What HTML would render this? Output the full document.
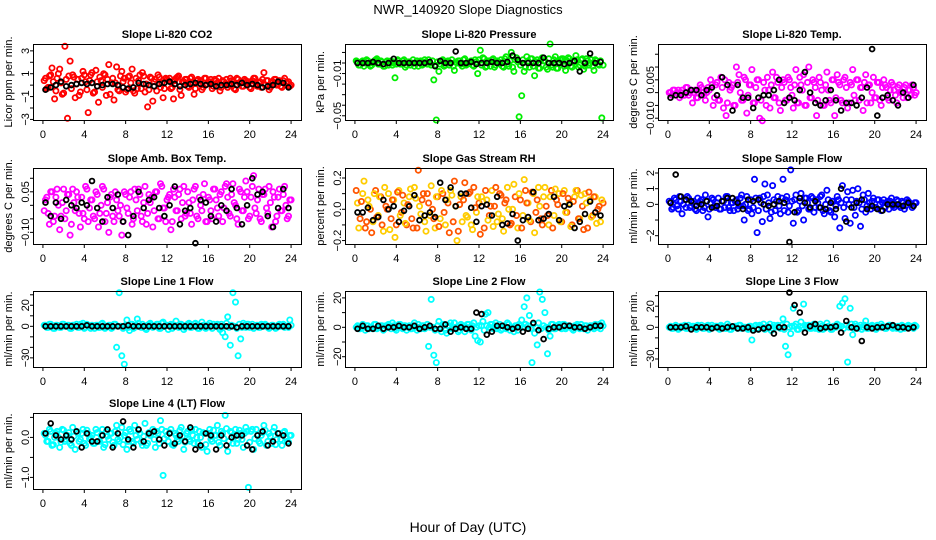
<!DOCTYPE html>
<html><head><meta charset="utf-8"><title>NWR_140920 Slope Diagnostics</title>
<style>
html,body{margin:0;padding:0;background:#fff;}
svg{display:block;font-family:"Liberation Sans",sans-serif;}
</style></head>
<body>
<svg id="chart" width="936" height="540" viewBox="0 0 936 540" xmlns="http://www.w3.org/2000/svg">
<rect x="0" y="0" width="936" height="540" fill="#fff"/>
<text x="468" y="14" text-anchor="middle" font-size="13">NWR_140920  Slope Diagnostics</text>
<text x="468" y="532" text-anchor="middle" font-size="14">Hour of Day (UTC)</text>
</svg>
<script>
// ---- data ----
const xTicks = [0,4,8,12,16,20,24];

const co2Color = [0.4,-0.3,0.8,1.5,-1.2,0.6,1.4,-0.8,3.4,-2.9,2.1,0.9,-1.1,0.5,-0.6,1.2,0.3,-2.4,0.9,-0.7,1.3,-1.5,0.4,1.0,-0.9,1.8,0.2,-1.3,1.6,-0.5,1.2,0.6,
-0.4,0.8,1.4,-0.7,-0.3,0.9,1.1,-0.6,-1.9,0.7,-1.4,0.5,0.9,-0.2,-1.1,0.6,0.4,-0.3,-1.2,0.6,0.8,-0.9,0.3,0.5,-0.2,0.7,-0.8,0.4,0.2,-0.4,0.6,0.1,
0.3,-0.3,0.5,0.2,-0.5,0.4,0.1,-0.2,0.6,0.3,-0.4,0.5,0.2,-0.1,0.4,0.3,-0.3,0.6,0.1,0.2,-0.2,1.1,0.4,-0.4,0.3,0.5,0.0,0.4,-0.2,0.6,0.2,-0.1];
const co2Band = [0.6,-0.2,0.9,0.3,-0.5,1.0,0.2,-0.7,0.5,0.8,-0.3,0.7,0.1,-0.9,0.6,0.9,-0.4,0.4,1.1,-0.6,0.3,0.7,-0.2,0.9,0.5,-0.8,0.6,0.2,-0.4,0.8,0.3,-0.6,
0.7,0.2,-0.5,0.6,0.4,-0.3,0.8,0.1,-0.4,0.6,0.3,-0.5,0.7,0.2,-0.3,0.5,0.6,-0.2,0.4,0.7,-0.4,0.3,0.5,-0.1,0.6,0.2,-0.3,0.5,0.4,-0.2,0.6,0.3,
0.5,-0.1,0.4,0.6,-0.2,0.3,0.5,0.0,0.4,-0.3,0.6,0.2,-0.1,0.5,0.3,-0.2,0.4,0.6,-0.1,0.3,0.5,0.0,0.4,-0.2,0.3,0.5,0.1,-0.1,0.4,0.2,0.3,0.0];
const co2Black = [-0.4,-0.2,0.0,0.3,-0.1,0.0,0.1,0.2,0.1,0.2,-0.1,0.0,0.1,0.1,0.0,-0.2,-0.3,-0.2,0.2,0.1,0.0,-0.1,0.1,0.2,0.3,0.1,-0.1,0.0,0.1,0.2,0.1,0.0,0.1,-0.1,0.0,0.0,0.1,0.0,0.2,0.0,0.1,0.0,-0.2,-0.1,0.0,0.3,0.2,-0.2];

const presColor = [0.002,-0.002,0.001,-0.003,0.003,0.000,-0.002,0.002,0.004,-0.001,0.001,-0.003,0.002,0.000,-0.002,-0.014,0.003,-0.001,0.002,-0.004,0.001,-0.002,0.003,0.000,-0.003,0.002,-0.001,0.001,0.003,-0.002,-0.016,-0.054,
-0.008,0.002,-0.003,0.001,-0.002,0.003,-0.007,0.000,0.002,-0.003,0.004,-0.001,0.001,-0.002,0.003,-0.010,0.012,0.005,-0.004,0.002,-0.003,0.004,-0.002,0.001,0.003,-0.004,0.006,-0.003,0.010,-0.008,0.005,-0.051,
-0.031,-0.008,0.006,-0.004,0.004,-0.012,0.003,-0.005,0.005,0.002,-0.006,0.018,-0.004,0.006,-0.005,0.003,0.004,-0.007,0.005,-0.003,0.002,0.007,-0.004,0.003,-0.006,0.004,-0.002,0.003,-0.007,0.002,-0.002,-0.052];
const presBand = [0.001,-0.002,0.002,0.000,0.002,-0.003,0.000,0.003,-0.001,0.002,-0.003,0.001,-0.002,0.002,0.000,-0.001,
0.002,-0.001,0.003,-0.002,0.001,0.000,-0.003,0.002,0.001,-0.002,0.003,-0.001,0.000,0.002,-0.002,0.001,
-0.001,0.003,-0.002,0.002,0.000,-0.003,0.001,0.002,-0.001,0.003,-0.002,0.000,0.002,-0.003,0.001,0.003,
-0.002,0.004,-0.003,0.001,0.003,-0.004,0.002,0.000,-0.003,0.004,-0.001,0.002,-0.004,0.003,0.001,-0.002,
0.003,-0.004,0.002,0.004,-0.003,0.001,-0.005,0.003,0.002,-0.004,0.004,-0.002,0.003,-0.005,0.001,0.004,
-0.003,0.002,0.004,-0.004,0.001,0.003,-0.002,0.004,-0.003,0.002,0.000,-0.003,0.003,-0.001,0.002,-0.002];
const presBlack = [0,0,0,0.001,0,-0.001,0,0.004,0,0,0,0,0,0,0.001,-0.003,0.002,0,0,0.011,0,0,0.001,-0.001,0,0,0.001,0,0,0.001,0.007,0.003,0,0,0,0,0.005,0,0,0,-0.001,0,0.002,-0.008,0,0.009,0,0.001];

const tempColor = [0.000,-0.001,0.001,0.000,-0.002,0.001,-0.001,0.002,0.000,-0.004,0.001,-0.002,0.003,0.000,-0.003,0.002,
0.005,-0.005,0.003,-0.003,0.006,-0.006,-0.009,0.004,0.002,-0.005,0.010,0.007,-0.003,0.006,-0.008,0.003,0.009,-0.004,0.005,-0.010,-0.011,0.001,0.006,-0.006,0.008,-0.002,0.004,-0.007,0.005,-0.003,0.006,0.002,-0.006,0.009,-0.004,0.003,0.007,-0.005,0.010,-0.002,0.004,-0.009,0.006,0.001,-0.005,0.008,-0.003,0.005,-0.009,0.007,0.003,-0.004,0.006,-0.006,0.004,0.009,-0.003,0.005,0.002,-0.007,0.007,0.003,-0.004,0.006,-0.002,0.004,-0.005,0.005,0.002,-0.003,0.004,0.001,-0.004,0.003,0.000,0.002,-0.002,0.001,0.003,-0.001];
const tempBand = [0.000,0.001,-0.001,0.001,0.000,-0.001,0.002,-0.001,0.001,0.000,-0.002,0.001,0.002,-0.001,0.000,0.001,
0.003,-0.002,0.004,-0.003,0.002,0.005,-0.004,0.001,0.003,-0.005,0.004,0.000,-0.003,0.005,-0.001,0.003,
-0.004,0.002,0.005,-0.003,0.004,-0.005,0.001,0.003,-0.002,0.006,-0.004,0.002,0.004,-0.003,0.005,-0.001,
0.003,-0.004,0.006,0.001,-0.005,0.004,-0.002,0.005,0.002,-0.003,0.004,-0.005,0.003,0.001,-0.004,0.005,
-0.002,0.004,-0.003,0.005,0.002,-0.004,0.003,-0.001,0.005,-0.003,0.002,0.004,-0.004,0.003,0.000,-0.002,
0.004,-0.003,0.002,0.003,-0.002,0.001,0.003,-0.001,0.002,0.000,-0.002,0.003,0.001,-0.001,0.002,0.000];
const tempBlack = [-0.002,-0.001,-0.001,0.000,0.001,0.001,-0.001,0.001,0.002,-0.001,0.006,0.003,-0.007,0.003,-0.002,-0.002,-0.006,-0.002,-0.001,-0.001,0.001,0.005,-0.004,-0.002,-0.003,0.001,0.008,0.000,-0.004,-0.005,-0.003,0.001,-0.003,-0.007,-0.004,-0.004,-0.005,-0.002,0.002,0.017,-0.009,-0.002,-0.001,-0.003,-0.005,0.000,-0.002,0.003];

const boxColor = [-0.02,0.03,-0.07,0.05,-0.04,0.06,-0.09,0.01,-0.05,0.04,-0.11,0.06,-0.02,0.03,-0.08,-0.03,0.07,-0.06,0.02,-0.04,0.05,-0.08,0.00,0.06,-0.03,-0.10,0.04,-0.06,0.02,-0.04,-0.11,0.05,
-0.01,0.03,-0.07,0.06,-0.02,0.04,-0.06,0.07,-0.03,0.01,-0.08,0.05,-0.05,0.08,-0.01,-0.06,0.03,-0.09,0.06,-0.02,0.04,-0.05,0.07,-0.03,0.01,-0.07,0.06,-0.04,0.03,-0.02,0.08,-0.06,
0.02,-0.05,0.06,-0.01,0.04,-0.06,0.07,0.03,-0.04,0.08,0.00,-0.07,0.05,-0.02,0.09,-0.05,0.03,0.11,-0.03,0.06,-0.06,0.04,-0.01,0.07,-0.08,0.03,-0.04,0.06,-0.02,0.07,-0.05,0.02];
const boxBand = [0.02,-0.03,0.05,-0.06,0.03,0.00,-0.04,0.06,-0.02,0.04,-0.07,0.01,0.05,-0.03,0.03,-0.05,
0.06,-0.01,0.02,-0.05,0.04,-0.03,0.07,-0.06,0.01,0.03,-0.04,0.05,-0.02,0.00,-0.06,0.04,
-0.03,0.05,-0.05,0.02,0.06,-0.04,0.01,-0.07,0.04,0.03,-0.02,0.05,-0.05,0.07,-0.01,0.02,
0.04,-0.06,0.03,-0.02,0.06,0.01,-0.04,0.05,-0.03,0.02,0.07,-0.05,0.00,0.04,-0.06,0.03,
-0.02,0.06,0.02,-0.04,0.05,-0.01,0.08,-0.03,0.04,0.01,-0.05,0.06,-0.02,0.03,0.05,-0.04,
0.07,-0.01,0.02,-0.05,0.04,0.06,-0.03,0.01,0.05,-0.06,0.03,-0.02,0.04,0.00,-0.04,0.02];
const boxBlack = [0.01,-0.04,0.01,-0.05,0.02,0.00,-0.01,0.01,0.00,0.09,-0.01,-0.06,0.03,-0.01,0.04,-0.06,-0.11,-0.04,0.05,-0.01,0.02,0.03,-0.01,-0.04,0.00,0.07,-0.07,-0.02,-0.01,-0.14,0.02,0.01,-0.04,-0.06,0.00,-0.02,0.06,-0.01,-0.07,0.00,0.10,0.04,0.05,-0.04,-0.08,-0.01,0.06,-0.01];

const rhColor = [0.12,-0.12,0.05,0.18,-0.08,0.02,-0.15,0.10,-0.05,0.08,-0.10,0.14,0.00,-0.13,0.06,-0.18,0.11,-0.04,0.09,-0.09,0.03,0.13,-0.12,0.07,0.25,-0.03,0.10,-0.14,0.04,0.15,-0.06,0.08,
-0.11,0.12,-0.02,0.06,-0.15,0.09,0.18,-0.20,0.03,-0.08,0.17,-0.05,0.11,-0.13,0.01,0.08,-0.16,0.05,0.12,-0.07,0.02,-0.11,0.14,-0.03,0.09,-0.14,0.06,0.00,-0.09,0.16,-0.04,0.10,
-0.12,0.19,0.04,-0.07,0.11,-0.15,0.06,0.02,-0.10,0.14,-0.04,0.08,-0.12,0.13,0.03,-0.08,0.10,-0.02,0.07,-0.11,0.05,0.12,-0.06,0.09,-0.13,0.04,0.11,-0.05,0.08,-0.09,0.02,0.06];
const rhBand = [0.04,-0.06,0.10,-0.12,0.06,0.00,-0.08,0.12,-0.04,0.08,-0.14,0.02,0.10,-0.06,0.06,-0.10,
0.12,-0.02,0.04,-0.10,0.08,-0.06,0.14,-0.12,0.02,0.06,-0.08,0.10,-0.04,0.00,-0.12,0.08,
-0.06,0.10,-0.10,0.04,0.12,-0.08,0.02,-0.14,0.08,0.06,-0.04,0.10,-0.10,0.14,-0.02,0.04,
0.08,-0.12,0.06,-0.04,0.12,0.02,-0.08,0.10,-0.06,0.04,0.14,-0.10,0.00,0.08,-0.12,0.06,
-0.04,0.12,0.04,-0.08,0.10,-0.02,0.14,-0.06,0.08,0.02,-0.10,0.12,-0.04,0.06,0.10,-0.08,
0.12,-0.02,0.04,-0.10,0.08,0.12,-0.06,0.02,0.10,-0.12,0.06,-0.04,0.08,0.00,-0.08,0.04];
const rhBlack = [-0.02,-0.02,0.01,-0.07,-0.05,0.06,0.00,0.02,-0.08,-0.01,0.02,0.09,-0.07,-0.04,-0.02,-0.05,0.17,0.06,0.14,0.02,0.10,0.10,0.01,-0.08,0.02,0.03,-0.04,0.08,-0.10,-0.09,-0.03,-0.20,-0.07,-0.05,0.11,-0.07,-0.06,-0.03,0.08,-0.07,0.02,0.03,-0.12,-0.08,-0.03,0.05,-0.02,-0.04];

const sampleColor = [0.2,-0.3,0.4,-0.1,0.5,-0.6,0.3,0.5,-0.2,0.1,-0.3,0.4,0.2,-0.4,0.6,-0.8,0.1,0.3,-0.2,0.4,-0.3,0.2,0.5,-0.2,0.1,-0.4,0.3,-0.1,0.6,-1.0,0.5,-0.3,
-0.6,1.6,-1.8,0.4,-1.1,1.3,0.6,-0.9,1.2,-0.4,0.5,-0.6,1.6,0.3,-0.5,2.2,-1.2,0.6,-0.4,0.7,-1.0,0.4,-0.3,0.5,-0.5,0.3,-0.2,0.6,-0.6,0.9,-0.4,0.2,
-0.8,0.5,-1.5,1.2,-0.9,0.8,-1.2,0.9,-0.7,1.0,-1.4,0.6,-0.5,0.7,-0.3,0.4,-0.2,0.3,-0.4,0.3,0.1,-0.3,0.4,-0.2,0.3,-0.1,0.2,-0.3,0.3,0.1,-0.2,0.1];
const sampleBand = [0.1,-0.2,0.3,-0.3,0.2,0.0,-0.2,0.4,-0.1,0.2,-0.4,0.1,0.3,-0.2,0.2,-0.3,
0.4,-0.1,0.1,-0.3,0.2,-0.2,0.5,-0.4,0.1,0.2,-0.3,0.4,-0.1,0.0,-0.4,0.3,
-0.2,0.4,-0.4,0.1,0.5,-0.3,0.1,-0.5,0.3,0.2,-0.1,0.4,-0.4,0.5,-0.1,0.2,
0.3,-0.5,0.2,-0.1,0.4,0.1,-0.3,0.4,-0.2,0.1,0.5,-0.4,0.0,0.3,-0.5,0.2,
-0.1,0.3,0.1,-0.2,0.3,0.0,0.3,-0.2,0.2,0.1,-0.3,0.3,-0.1,0.1,0.2,-0.2,
0.3,0.0,0.1,-0.2,0.2,0.2,-0.1,0.0,0.2,-0.2,0.1,-0.1,0.2,0.0,-0.1,0.1];
const sampleBlack = [0.1,1.9,0.5,0.3,0.2,-0.1,0.0,0.2,-0.2,-0.1,0.2,0.4,0.4,0.1,-0.3,0.3,0.2,0.3,0.0,-0.1,0.0,0.2,0.1,-2.4,-0.5,0.4,0.1,-0.2,0.2,-0.2,-0.3,0.1,-0.3,1.0,-1.1,-0.2,0.1,0.3,-0.3,-0.1,-0.3,-0.4,0.0,0.0,0.0,-0.1,0.1,-0.1];

const line1Color = [1,-1,2,0,-2,1,-1,2,0,1,-2,1,0,-1,2,3,-1,1,-2,0,1,-1,2,-1,0,1,-2,2,
-20,32,-28,-36,
6,-4,2,-1,7,0,2,-2,1,3,-1,0,2,-2,4,1,-3,2,0,5,-1,2,-3,1,3,-1,2,0,-2,4,-1,1,3,-2,0,2,-3,-6,
-10,9,-18,32,23,-28,-12,
3,-1,2,0,-2,1,-1,2,0,1,-2,1,0,-1,2,1,-1,0,6];
const line1Band = [1,-1,2,-2,1,0,-1,2,0,1,-2,1,2,-1,1,-2,
2,0,1,-2,1,-1,3,-2,0,1,-1,2,0,0,-2,1,
-1,2,-2,1,3,-1,0,-3,2,1,0,2,-2,3,0,1,
1,-2,1,0,2,1,-1,2,-1,0,3,-2,0,1,-2,1,
0,2,1,-1,2,0,3,-1,1,0,-2,2,-1,1,2,-1,
2,0,1,-1,1,2,-1,0,1,-2,1,0,2,0,-1,1];
const line1Black = [0,0,0,0,0,0,0,0,1,0,0,0,0,0,0,0,1,0,0,0,0,0,0,0,0,0,0,0,0,0,0,0,0,0,0,0,0,-1,0,0,0,0,0,0,0,0,0,0];

const line2Color = [0,-1,1,0,1,-1,0,2,-1,0,1,-1,0,1,3,-1,0,2,-1,1,0,-1,1,0,2,-1,1,0,
-13,19,-19,-24,
4,-3,2,-4,1,-1,3,0,-2,1,-3,2,0,1,
-6,-9,-10,4,
9,10,
2,-1,3,0,-2,1,-1,2,0,-3,1,2,
5,14,20,8,-24,-4,
-12,24,19,10,-18,-6,
2,-1,1,0,2,-1,1,0,-2,1,0,2,-1,1,0,1,-1,0,2,3];
const line2Band = [1,-1,2,-2,1,0,-1,2,0,1,-2,1,2,-1,1,-2,
2,0,1,-2,1,-1,3,-2,0,1,-1,2,0,0,-2,1,
-1,2,-2,1,3,-1,0,-3,2,1,0,2,-2,3,0,1,
1,-2,1,0,2,1,-1,2,-1,0,3,-2,0,1,-2,1,
0,2,1,-1,2,0,3,-1,1,0,-2,2,-1,1,2,-1,
2,0,1,-1,1,2,-1,0,1,-2,1,0,2,0,-1,1];
const line2Black = [-1,1,-1,-1,1,-1,0,0,1,0,0,1,-1,0,1,-1,-1,2,-3,-1,0,-1,-1,10,9,-5,-3,1,1,0,-1,0,-3,-1,3,-2,-8,-1,0,0,1,1,0,0,-1,0,1,1];

const line3Color = [0,-1,1,0,-1,1,2,-1,0,1,-1,2,0,-1,1,2,-1,0,1,-1,2,0,-1,1,-2,0,1,2,-1,0,-1,1,
-12,
1,-1,2,0,-2,1,3,-1,0,2,-1,
8,-18,-26,-6,
18,3,-2,5,22,1,
2,-1,3,0,-2,1,-1,4,0,-2,1,3,
20,23,27,-33,18,-7,
3,-1,2,0,6,-1,1,0,-2,1,3,0,-1,2,0,1,-1,0,2,-1,1,0,1,2];
const line3Band = [1,-1,2,-2,1,0,-1,2,0,1,-2,1,2,-1,1,-2,
2,0,1,-2,1,-1,3,-2,0,1,-1,2,0,0,-2,1,
-1,2,-2,1,3,-1,0,-3,2,1,0,2,-2,3,0,1,
1,-2,1,0,2,1,-1,2,-1,0,3,-2,0,1,-2,1,
0,2,1,-1,2,0,3,-1,1,0,-2,2,-1,1,2,-1,
2,0,1,-1,1,2,-1,0,1,-2,1,0,2,0,-1,1];
const line3Black = [0,0,0,1,-2,0,0,0,-1,0,-1,0,1,-1,-1,0,-3,-2,-1,0,-6,0,0,33,21,14,-5,1,3,-1,0,0,1,-5,6,0,-1,-13,0,-1,0,0,1,2,0,0,-1,0];

const line4Color = [0.1,-0.1,0.2,-0.2,0.0,0.15,-0.25,0.2,-0.1,0.05,-0.15,0.25,-0.3,0.1,-0.05,0.2,-0.2,0.1,0.0,-0.15,0.2,-0.1,0.05,-0.25,0.15,-0.05,0.1,-0.2,0.3,-0.1,0.25,0.05,
-0.3,0.2,-0.1,0.3,-0.05,0.1,-0.2,0.35,-0.15,0.05,0.2,-0.25,0.1,0.42,-0.95,0.15,-0.1,0.2,-0.2,0.05,-0.1,0.25,-0.3,0.1,-0.05,0.2,-0.15,0.0,0.15,-0.25,0.1,-0.35,
0.2,-0.1,0.05,0.3,-0.2,0.1,0.55,-0.35,0.15,-0.15,0.2,-0.05,0.1,-0.25,0.25,-1.25,0.15,-0.3,0.2,-0.1,0.05,0.3,-0.2,0.1,-0.15,0.25,-0.05,0.1,-0.2,0.15,-0.1,0.05];
const line4Band = [0.05,-0.1,0.15,-0.18,0.1,0.0,-0.12,0.18,-0.05,0.12,-0.2,0.03,0.15,-0.1,0.1,-0.15,
0.18,-0.03,0.05,-0.15,0.12,-0.1,0.2,-0.18,0.03,0.1,-0.12,0.15,-0.05,0.0,-0.18,0.12,
-0.1,0.15,-0.15,0.05,0.18,-0.12,0.03,-0.2,0.12,0.1,-0.05,0.15,-0.15,0.2,-0.03,0.05,
0.12,-0.18,0.1,-0.05,0.18,0.03,-0.12,0.15,-0.1,0.05,0.2,-0.15,0.0,0.12,-0.18,0.1,
-0.05,0.18,0.05,-0.12,0.15,-0.03,0.22,-0.1,0.12,0.03,-0.15,0.18,-0.05,0.1,0.15,-0.12,
0.2,-0.03,0.05,-0.15,0.12,0.18,-0.1,0.03,0.15,-0.18,0.1,-0.05,0.12,0.0,-0.12,0.05];
const line4Black = [0.1,0.35,0.05,-0.05,0.05,-0.05,0.15,-0.25,0.1,-0.1,-0.1,0.05,0.2,-0.25,0.1,0.4,-0.05,-0.25,0.2,-0.1,0.1,0.15,-0.05,-0.2,0.1,-0.15,0.05,-0.1,0.25,-0.3,-0.2,0.1,0.05,-0.3,0.05,-0.2,0.0,0.05,0.05,-0.2,-0.3,0.05,0.15,-0.2,-0.1,0.1,0.05,-0.15];

const co2YTicks = [3,2,1,0,-1,-2,-3];
const co2YLabels = ["3","","1","","-1","","-3"];
const presYTicks = [0.01,0,-0.01,-0.02,-0.03,-0.04,-0.05];
const presYLabels = ["","","-0.01","","","","-0.05"];
const tempYTicks = [0.015,0.01,0.005,0,-0.005,-0.01];
const tempYLabels = ["","","0.005","","","-0.010"];
const boxYTicks = [0.1,0.05,0,-0.05,-0.1];
const boxYLabels = ["","0.05","","","-0.10"];
const rhYTicks = [0.2,0.1,0,-0.1,-0.2];
const rhYLabels = ["0.2","","0.0","","-0.2"];
const sampleYTicks = [2,1,0,-1,-2];
const sampleYLabels = ["2","1","0","","-2"];
const l1YTicks = [30,20,10,0,-10,-20,-30];
const l1YLabels = ["","20","","0","","","-30"];
const l2YTicks = [20,10,0,-10,-20];
const l2YLabels = ["20","","0","","-20"];
const l3YTicks = [30,20,10,0,-10,-20,-30];
const l3YLabels = ["","20","","0","","","-30"];
const l4YTicks = [0.5,0,-0.5,-1];
const l4YLabels = ["","0.0","","-1.0"];

// ---- layout ----
const COLS = [[33,301],[345,613],[658,926]];
const ROWS = [[44,120],[168,244],[291,367],[413,489]];
const panels = [
 {name:"co2",title:"Slope Li-820 CO2",ylab:"Licor ppm per min.",c:0,r:0,ylim:[-3.05,3.6],yt:co2YTicks,yl:co2YLabels,col:"#ff0000",d:co2Color,e:co2Band,b:co2Black},
 {name:"pressure",title:"Slope Li-820 Pressure",ylab:"kPa per min.",c:1,r:0,ylim:[-0.054,0.018],yt:presYTicks,yl:presYLabels,col:"#00ee00",d:presColor,e:presBand,b:presBlack},
 {name:"temp",title:"Slope Li-820 Temp.",ylab:"degrees C per min.",c:2,r:0,ylim:[-0.0107,0.019],yt:tempYTicks,yl:tempYLabels,col:"#ff00ff",d:tempColor,e:tempBand,b:tempBlack},
 {name:"amb-box-temp",title:"Slope Amb. Box Temp.",ylab:"degrees C per min.",c:0,r:1,ylim:[-0.143,0.138],yt:boxYTicks,yl:boxYLabels,col:"#ff00ff",d:boxColor,e:boxBand,b:boxBlack},
 {name:"gas-stream-rh",title:"Slope Gas Stream RH",ylab:"percent per min.",c:1,r:1,ylim:[-0.222,0.264],yt:rhYTicks,yl:rhYLabels,col:"rh",d:rhColor,e:rhBand,b:rhBlack},
 {name:"sample-flow",title:"Slope Sample Flow",ylab:"ml/min per min.",c:2,r:1,ylim:[-2.53,2.32],yt:sampleYTicks,yl:sampleYLabels,col:"#0000ff",d:sampleColor,e:sampleBand,b:sampleBlack},
 {name:"line1-flow",title:"Slope Line 1 Flow",ylab:"ml/min per min.",c:0,r:2,ylim:[-38.7,33.6],yt:l1YTicks,yl:l1YLabels,col:"#00ffff",d:line1Color,e:line1Band,b:line1Black},
 {name:"line2-flow",title:"Slope Line 2 Flow",ylab:"ml/min per min.",c:1,r:2,ylim:[-27,24.7],yt:l2YTicks,yl:l2YLabels,col:"#00ffff",d:line2Color,e:line2Band,b:line2Black},
 {name:"line3-flow",title:"Slope Line 3 Flow",ylab:"ml/min per min.",c:2,r:2,ylim:[-37.6,34.4],yt:l3YTicks,yl:l3YLabels,col:"#00ffff",d:line3Color,e:line3Band,b:line3Black},
 {name:"line4-flow",title:"Slope Line 4 (LT) Flow",ylab:"ml/min per min.",c:0,r:3,ylim:[-1.29,0.61],yt:l4YTicks,yl:l4YLabels,col:"#00ffff",d:line4Color,e:line4Band,b:line4Black}
];

const NS = "http://www.w3.org/2000/svg";
const svg = document.getElementById("chart");
function mk(tag, attrs, parent){
  const e = document.createElementNS(NS, tag);
  for (const k in attrs) e.setAttribute(k, attrs[k]);
  parent.appendChild(e);
  return e;
}
function xScale(p, h){ const [L,R]=COLS[p.c]; return L + (h + 0.96) / 25.92 * (R - L); }
function yScale(p, v){ const [T,B]=ROWS[p.r]; return B - (v - p.ylim[0]) / (p.ylim[1] - p.ylim[0]) * (B - T); }
function hourOf(i, n){ return (i + 0.5) * 24 / n; }

panels.forEach(p => {
  const [L,R] = COLS[p.c], [T,B] = ROWS[p.r];
  const g = mk("g", {}, svg);
  
  

  const title = mk("text", {x:(L+R)/2, y:T-6, "text-anchor":"middle", "font-size":"11", "font-weight":"bold"}, g);
  title.textContent = p.title;
  
  

  const yl = mk("text", {x:0, y:0, "text-anchor":"middle", "font-size":"11", transform:"translate(" + (L-21) + "," + ((T+B)/2) + ") rotate(-90)"}, g);
  yl.textContent = p.ylab;
  
  

  const pts = mk("g", {fill:"none", "stroke-width":"1.8"}, g);
  
  
  const colorOf = i => p.col === "rh" ? (i % 2 ? "#ffcc00" : "#ff5500") : p.col;
  p.e.forEach((v, i) => {
    const c = mk("circle", {cx:xScale(p, hourOf(i, p.e.length) + 0.125).toFixed(1), cy:yScale(p, v).toFixed(1), r:"2.6", stroke:colorOf(i+1)}, pts);
    
    
  });
  p.d.forEach((v, i) => {
    const c = mk("circle", {cx:xScale(p, hourOf(i, p.d.length)).toFixed(1), cy:yScale(p, v).toFixed(1), r:"2.6", stroke:colorOf(i)}, pts);
    
    
  });
  const bk = mk("g", {fill:"none", stroke:"#000", "stroke-width":"1.8"}, g);
  
  
  p.b.forEach((v, i) => {
    const c = mk("circle", {cx:xScale(p, hourOf(i, p.b.length)).toFixed(1), cy:yScale(p, v).toFixed(1), r:"2.4"}, bk);
    
    
  });

  const box = mk("rect", {x:L+0.5, y:T+0.5, width:R-L, height:B-T, fill:"none", stroke:"#000", "stroke-width":"1"}, g);
  
  

  const xa = mk("g", {}, g);
  
  
  xTicks.forEach(t => {
    const x = xScale(p, t);
    mk("line", {x1:x, x2:x, y1:B, y2:B+4, stroke:"#000"}, xa);
    const tl = mk("text", {x:x, y:B+18, "text-anchor":"middle", "font-size":"11"}, xa);
    tl.textContent = t;
    
    
  });
  const ya = mk("g", {}, g);
  
  
  p.yt.forEach((t, i) => {
    const y = yScale(p, t);
    mk("line", {x1:L-3, x2:L, y1:y, y2:y, stroke:"#000"}, ya);
    if (p.yl[i]) {
      const tl = mk("text", {x:0, y:0, "text-anchor":"middle", "font-size":"11", transform:"translate(" + (L-4) + "," + y.toFixed(1) + ") rotate(-90)"}, ya);
      tl.textContent = p.yl[i].replace("-", "\u2212");
      
      
    }
  });
});
</script>
</body></html>
